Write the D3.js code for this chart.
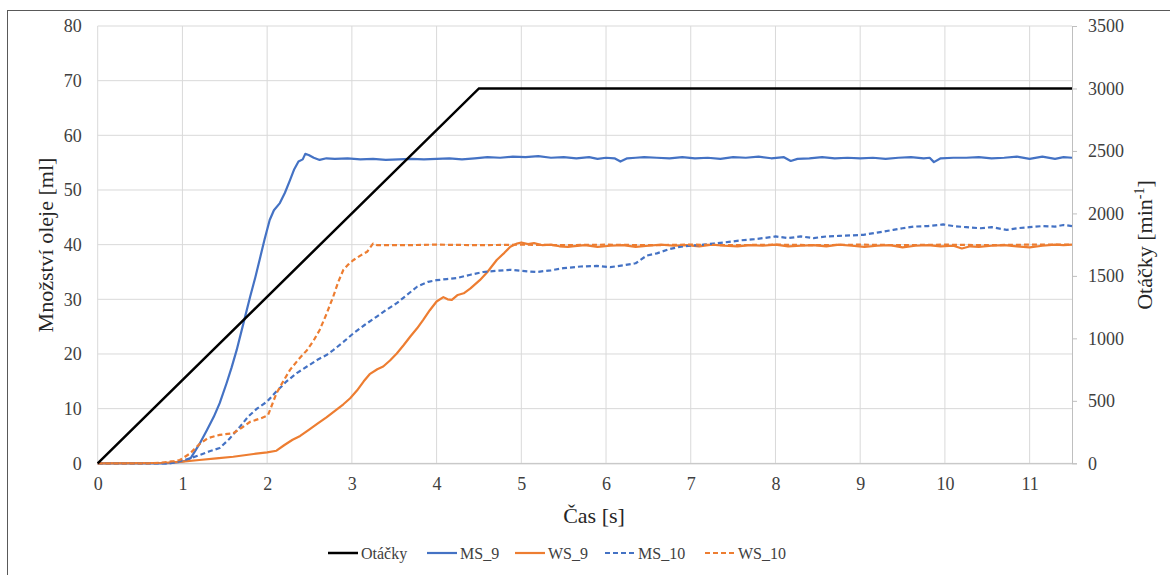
<!DOCTYPE html>
<html><head><meta charset="utf-8">
<script src="https://cdn.jsdelivr.net/npm/d3@7"></script>
<style>
html,body{margin:0;padding:0;background:#fff;}
</style></head>
<body>
<svg id="c" width="1170" height="575" font-family="Liberation Serif"></svg>
<script>
// ---- data ----
const xTicks = [0,1,2,3,4,5,6,7,8,9,10,11];
const yLeftTicks = [0,10,20,30,40,50,60,70,80];
const yRightTicks = [0,500,1000,1500,2000,2500,3000,3500];
const seriesNames = ["Otáčky","MS_9","WS_9","MS_10","WS_10"];

const otacky = [[0,0],[4.5,3000],[11.5,3000]];

const ms9 = [[0,0],[0.5,0],[0.8,0],[0.95,0.2],[1.05,0.5],[1.1,1.0],[1.2,3.5],[1.29,6.1],[1.37,8.5],[1.44,11],[1.52,14.6],[1.58,17.5],[1.64,20.7],[1.72,25.6],[1.8,30.5],[1.86,34],[1.92,37.8],[1.97,41],[2.03,44.5],[2.08,46.3],[2.15,47.6],[2.21,49.5],[2.27,51.8],[2.32,53.8],[2.37,55.2],[2.42,55.6],[2.45,56.6],[2.49,56.4],[2.55,55.9],[2.62,55.5],[2.7,55.8],
[2.8,55.7],[2.95,55.8],[3.1,55.6],[3.25,55.7],[3.4,55.5],[3.55,55.6],[3.7,55.7],[3.85,55.6],[4.0,55.7],[4.15,55.8],[4.3,55.6],[4.45,55.8],[4.6,56.0],[4.75,55.9],[4.9,56.1],[5.05,56.0],[5.2,56.2],[5.35,55.9],[5.5,56.0],[5.65,55.8],[5.8,56.0],[5.9,55.7],[6.0,55.9],[6.1,55.8],[6.17,55.2],[6.25,55.8],[6.35,55.9],[6.45,56.0],[6.6,55.9],[6.75,55.8],[6.9,56.0],[7.05,55.8],[7.2,55.9],[7.35,55.7],[7.5,56.0],[7.65,55.9],[7.8,56.1],[7.95,55.8],[8.1,56.0],[8.18,55.3],[8.26,55.7],[8.4,55.8],[8.55,56.0],[8.7,55.8],[8.85,55.9],[9.0,55.8],[9.15,55.9],[9.3,55.7],[9.45,55.9],[9.6,56.0],[9.75,55.8],[9.82,55.9],[9.87,55.1],[9.95,55.8],[10.1,55.9],[10.25,55.9],[10.4,56.0],[10.55,55.8],[10.7,55.9],[10.85,56.1],[11.0,55.7],[11.15,56.1],[11.3,55.7],[11.4,56.0],[11.5,55.9]];

const ws9 = [[0,0],[0.5,0.05],[0.8,0.1],[1.0,0.3],[1.2,0.6],[1.4,0.9],[1.6,1.2],[1.84,1.7],[2.0,2.0],[2.11,2.3],[2.2,3.3],[2.3,4.3],[2.39,5.0],[2.5,6.2],[2.59,7.2],[2.7,8.4],[2.8,9.6],[2.9,10.8],[2.98,11.9],[3.06,13.3],[3.14,15.0],[3.21,16.3],[3.3,17.2],[3.37,17.7],[3.45,18.8],[3.53,20.1],[3.61,21.6],[3.69,23.2],[3.77,24.7],[3.84,26.2],[3.92,28.0],[4.0,29.6],[4.08,30.4],[4.13,30.0],[4.18,29.9],[4.25,30.8],[4.32,31.1],[4.4,32.0],[4.51,33.5],[4.6,35.0],[4.71,37.2],[4.8,38.5],[4.87,39.6],[4.95,40.2],[5.0,40.4],[5.08,40.1],[5.15,40.3],[5.25,39.9],[5.35,40.0],[5.45,39.7],[5.55,39.6],
[5.6,39.7],[5.75,39.9],[5.9,39.6],[6.05,39.8],[6.2,39.9],[6.35,39.6],[6.5,39.8],[6.65,40.0],[6.8,39.8],[6.95,39.9],[7.1,39.7],[7.25,40.0],[7.4,39.8],[7.55,39.7],[7.7,39.9],[7.85,39.8],[8.0,40.0],[8.15,39.7],[8.3,39.8],[8.45,39.9],[8.6,39.7],[8.75,40.0],[8.9,39.8],[9.05,39.6],[9.2,39.8],[9.35,39.9],[9.5,39.5],[9.65,39.8],[9.8,39.9],[9.95,39.7],[10.1,39.8],[10.2,39.3],[10.3,39.7],[10.4,39.6],[10.55,39.8],[10.7,39.9],[10.85,39.7],[11.0,39.5],[11.15,39.8],[11.3,40.0],[11.4,39.9],[11.5,40.0]];

const ms10 = [[0,0],[0.6,0],[0.85,0],[0.95,0.3],[1.09,0.9],[1.2,1.5],[1.32,2.2],[1.44,2.8],[1.55,4.4],[1.68,6.7],[1.78,8.6],[1.88,10.0],[2.0,11.3],[2.1,13.0],[2.23,15.0],[2.35,16.5],[2.47,17.7],[2.6,19.0],[2.7,19.8],[2.78,20.7],[2.9,22.2],[3.02,23.8],[3.15,25.3],[3.29,26.8],[3.4,28.0],[3.53,29.3],[3.65,30.8],[3.77,32.3],[3.9,33.2],[4.0,33.5],[4.12,33.7],[4.24,33.9],[4.4,34.5],[4.55,35.0],[4.7,35.2],[4.87,35.4],[5.0,35.2],[5.18,35.0],[5.35,35.3],[5.5,35.7],[5.7,36.0],[5.89,36.1],[6.05,35.9],[6.2,36.2],[6.35,36.6],[6.48,38.0],[6.6,38.4],[6.75,39.2],[6.87,39.6],[7.0,39.8],[7.15,40.0],[7.27,40.2],[7.45,40.5],[7.6,40.8],[7.75,41.0],[7.86,41.2],[8.0,41.5],[8.15,41.2],[8.3,41.5],[8.45,41.2],[8.6,41.5],[8.75,41.6],[8.9,41.7],[9.04,41.8],[9.2,42.2],[9.39,42.7],[9.5,43.0],[9.63,43.3],[9.8,43.4],[9.98,43.7],[10.1,43.4],[10.25,43.2],[10.42,43.0],[10.55,43.2],[10.73,42.7],[10.85,43.0],[11.0,43.2],[11.15,43.4],[11.3,43.3],[11.4,43.6],[11.5,43.4]];

const ws10 = [[0,0],[0.6,0],[0.74,0.1],[0.9,0.4],[0.97,0.6],[1.09,1.8],[1.2,3.5],[1.3,4.6],[1.44,5.2],[1.6,5.5],[1.7,6.5],[1.8,7.6],[1.92,8.2],[2.01,8.8],[2.11,12.8],[2.19,15.0],[2.27,17.1],[2.37,19.0],[2.47,20.7],[2.55,22.5],[2.62,24.4],[2.7,27.3],[2.78,30.5],[2.84,33.2],[2.9,35.4],[2.96,36.4],[3.02,37.2],[3.1,38.0],[3.18,38.7],[3.25,40.2],[3.3,39.9],[3.6,39.9],[4.0,40.0],[4.5,39.9],[5.0,40.0],[5.5,39.9],[6.0,40.0],[6.5,39.9],[7.0,40.0],[7.5,39.9],[8.0,40.0],[8.5,39.9],[9.0,40.0],[9.5,39.9],[10.0,40.0],[10.5,39.9],[11.0,40.0],[11.5,40.0]];

// ---- chart ----
const svg = d3.select("#c");
const FONT = "Liberation Serif";
const X0 = 97.7, X1 = 1072, Y0 = 463.3, Y1 = 26;
const x = d3.scaleLinear().domain([0,11.5]).range([X0,X1]);
const yL = d3.scaleLinear().domain([0,80]).range([Y0,Y1]);
const yR = d3.scaleLinear().domain([0,3500]).range([Y0,Y1]);

// outer border
svg.append("rect").attr("x",7.5).attr("y",10.5).attr("width",1180).attr("height",600)
  .attr("fill","none").attr("stroke","#595959").attr("stroke-width",1);

// gridlines
const grid = svg.append("g");
grid.selectAll("line.v").data(xTicks).join("line").attr("class","v")
  .attr("x1",d=>x(d)).attr("x2",d=>x(d)).attr("y1",Y1).attr("y2",Y0)
  .attr("stroke","#d9d9d9").attr("stroke-width",1);
grid.selectAll("line.h").data(yLeftTicks).join("line").attr("class","h")
  .attr("x1",X0).attr("x2",X1).attr("y1",d=>yL(d)).attr("y2",d=>yL(d))
  .attr("stroke","#d9d9d9").attr("stroke-width",1);

// axes
const axL = svg.append("g").attr("transform",`translate(${X0},0)`)
  .call(d3.axisLeft(yL).tickValues(yLeftTicks).tickSize(0).tickPadding(16));
axL.select(".domain").remove();
const axR = svg.append("g").attr("transform",`translate(${X1},0)`)
  .call(d3.axisRight(yR).tickValues(yRightTicks).tickFormat(d3.format("d")).tickSize(5).tickPadding(11));
axR.select(".domain").attr("stroke","#bfbfbf");
axR.selectAll(".tick line").attr("stroke","#bfbfbf");
const axB = svg.append("g").attr("transform",`translate(0,${Y0})`)
  .call(d3.axisBottom(x).tickValues(xTicks).tickSize(0).tickPadding(14));
axB.select(".domain").attr("stroke","#bfbfbf");
[axL,axR,axB].forEach(a=>{
  a.attr("font-family",FONT).attr("font-size",18);
  a.selectAll("text").attr("font-family",FONT).attr("font-size",18).attr("fill","#404040");
});

// axis titles
svg.append("text").attr("x",594).attr("y",523).attr("text-anchor","middle").attr("font-family",FONT)
  .attr("font-size",22).attr("fill","#262626").text("Čas [s]");
svg.append("text").attr("transform","translate(53,245) rotate(-90)").attr("text-anchor","middle").attr("font-family",FONT)
  .attr("font-size",22).attr("fill","#262626").text("Množství oleje [ml]");
const rt = svg.append("text").attr("transform","translate(1152,245) rotate(-90)").attr("text-anchor","middle").attr("font-family",FONT)
  .attr("font-size",22).attr("fill","#262626");
rt.append("tspan").text("Otáčky [min");
rt.append("tspan").attr("font-size",14).attr("dy",-8).text("-1");
rt.append("tspan").attr("dy",8).text("]");

// lines
const lineL = d3.line().x(d=>x(d[0])).y(d=>yL(d[1]));
const lineR = d3.line().x(d=>x(d[0])).y(d=>yR(d[1]));
const styles = {
  "Otáčky":{c:"#000000",w:2.5,dash:null},
  "MS_9":{c:"#4472C4",w:2.2,dash:null},
  "WS_9":{c:"#ED7D31",w:2.2,dash:null},
  "MS_10":{c:"#4472C4",w:2.2,dash:"5,3"},
  "WS_10":{c:"#ED7D31",w:2.2,dash:"5,3"}
};
const primary = [["MS_9",ms9],["WS_9",ws9],["MS_10",ms10],["WS_10",ws10]];
primary.forEach(([n,d])=>{
  svg.append("path").datum(d).attr("d",lineL).attr("fill","none")
    .attr("stroke",styles[n].c).attr("stroke-width",styles[n].w)
    .attr("stroke-dasharray",styles[n].dash).attr("stroke-linejoin","round");
});
svg.append("path").datum(otacky).attr("d",lineR).attr("fill","none")
  .attr("stroke","#000").attr("stroke-width",2.5);

// legend
const legX = [328,427,515,605,705];
const lg = svg.append("g");
seriesNames.forEach((n,i)=>{
  const s = styles[n];
  lg.append("line").attr("x1",legX[i]).attr("x2",legX[i]+30).attr("y1",553).attr("y2",553)
    .attr("stroke",s.c).attr("stroke-width",s.w).attr("stroke-dasharray",s.dash);
  lg.append("text").attr("x",legX[i]+33).attr("y",559).attr("font-size",16).attr("font-family",FONT)
    .attr("fill","#404040").text(n);
});
</script>
</body></html>
